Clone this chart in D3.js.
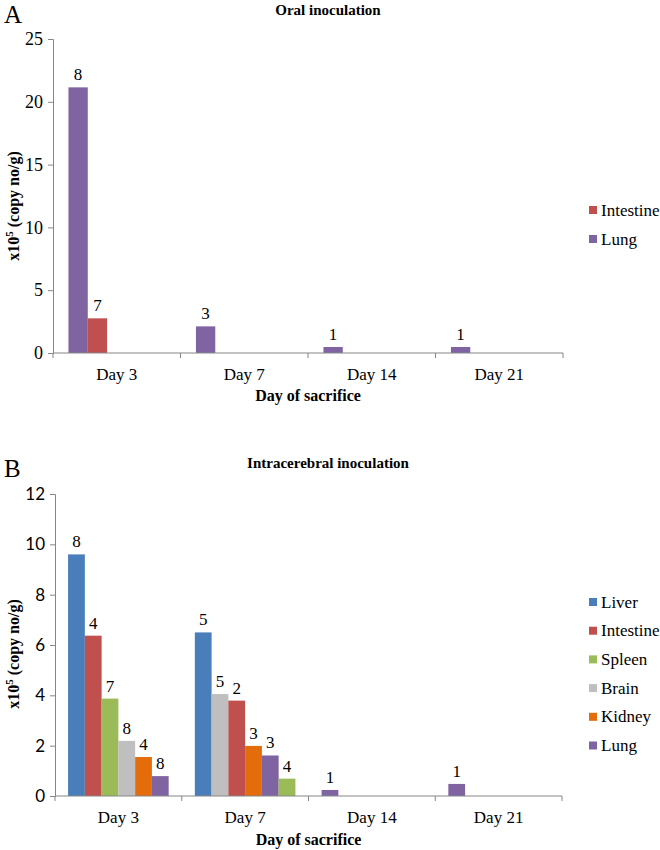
<!DOCTYPE html>
<html><head><meta charset="utf-8">
<script src="https://cdn.jsdelivr.net/npm/d3@7"></script>
<style>body{margin:0;background:#fff}svg{display:block}</style>
</head><body>
<script>
const categories = ["Day 3", "Day 7", "Day 14", "Day 21"];

// Panel A: oral inoculation
const oralSeries = ["Intestine", "Lung"];
const oralIntestine = [2.76, 0, 0, 0];
const oralLung = [21.15, 2.12, 0.48, 0.48];
const oralIntestineN = [7, null, null, null];
const oralLungN = [8, 3, 1, 1];
const oralTicks = [0, 5, 10, 15, 20, 25];

// Panel B: intracerebral inoculation
const icSeries = ["Liver", "Intestine", "Spleen", "Brain", "Kidney", "Lung"];
const icLiver = [9.6, 6.5, 0, 0];
const icIntestine = [6.37, 3.79, 0, 0];
const icSpleen = [3.87, 0.69, 0, 0];
const icBrain = [2.19, 4.05, 0, 0];
const icKidney = [1.55, 1.99, 0, 0];
const icLung = [0.79, 1.61, 0.24, 0.48];
const icLiverN = [8, 5, null, null];
const icIntestineN = [4, 2, null, null];
const icSpleenN = [7, 4, null, null];
const icBrainN = [8, 5, null, null];
const icKidneyN = [4, 3, null, null];
const icLungN = [8, 3, 1, 1];
const icTicks = [0, 2, 4, 6, 8, 10, 12];

const colors = {Liver: "#4A7EBB", Intestine: "#C0504D", Spleen: "#9BBB59", Brain: "#BFBFBF", Kidney: "#E46C0A", Lung: "#8064A2"};

const FONT = "Liberation Serif";
const SANS = "Lato";
const svg = d3.select("body").append("svg").attr("width", 660).attr("height", 850)
  .style("font-family", FONT);

function txt(sel) { return sel.append("text").style("font-family", FONT).attr("fill", "#000"); }

function panel(cfg) {
  const g = svg.append("g");
  const x = d3.scaleBand().domain(categories).range([cfg.x0, cfg.x1]).padding(0);
  const y = d3.scaleLinear().domain([0, cfg.max]).range([cfg.yBase, cfg.yTop]);
  const slot = d3.scaleBand().domain(d3.range(cfg.slots)).range([0, x.bandwidth()]).paddingInner(0).paddingOuter(cfg.outer);

  categories.forEach((c, ci) => {
    const items = cfg.series.map((s, si) => ({s, v: cfg.values[si][ci], n: cfg.counts[si][ci]}))
      .filter(d => d.v > 0).sort((a, b) => b.v - a.v);
    items.forEach((d, k) => {
      const bx = x(c) + slot(k);
      g.append("rect").attr("x", bx).attr("y", y(d.v)).attr("width", slot.bandwidth())
        .attr("height", y(0) - y(d.v)).attr("fill", colors[d.s]);
      if (d.n != null) {
        txt(g).attr("x", bx + slot.bandwidth() / 2).attr("y", y(d.v) - 7)
          .attr("text-anchor", "middle").style("font-size", "17px").text(d.n);
      }
    });
  });

  const ya = g.append("g").attr("transform", `translate(${cfg.x0},0)`)
    .call(d3.axisLeft(y).tickValues(cfg.ticks).tickSize(5).tickPadding(5).tickFormat(d3.format("d")));
  ya.attr("font-family", null).attr("font-size", null);
  ya.selectAll("path,line").attr("stroke", "#868686");
  ya.selectAll("text").style("font-size", cfg.tickFontSize).style("font-family", cfg.tickFont).attr("fill", "#000");

  const xa = g.append("g").attr("transform", `translate(0,${cfg.yBase})`);
  xa.append("line").attr("x1", cfg.x0).attr("x2", cfg.x1).attr("stroke", "#868686");
  const bounds = categories.map(c => x(c)).concat([cfg.x1]);
  bounds.forEach(b => xa.append("line").attr("x1", b).attr("x2", b).attr("y1", 0).attr("y2", 5).attr("stroke", "#868686"));
  categories.forEach(c => txt(xa).attr("x", x(c) + x.bandwidth() / 2).attr("y", cfg.tickLabelY - cfg.yBase)
    .attr("text-anchor", "middle").style("font-size", "17px").text(c));

  txt(g).attr("x", (cfg.x0 + cfg.x1) / 2).attr("y", cfg.xTitleY).attr("text-anchor", "middle")
    .style("font-size", "16px").style("font-weight", "bold").text("Day of sacrifice");
  txt(g).attr("x", 328).attr("y", cfg.titleY).attr("text-anchor", "middle")
    .style("font-size", "15px").style("font-weight", "bold").text(cfg.title);
  txt(g).attr("x", 4).attr("y", cfg.letterY).style("font-size", "25px").text(cfg.letter);

  const yl = txt(g).attr("transform", `translate(19,${cfg.yLabelY}) rotate(-90)`)
    .attr("text-anchor", "middle").style("font-size", "16px").style("font-weight", "bold");
  yl.append("tspan").text("x10");
  yl.append("tspan").style("font-size", "11px").attr("dy", -6).text("5");
  yl.append("tspan").attr("dy", 6).text(" (copy no/g)");

  cfg.legend.forEach((s, i) => {
    const ly = cfg.legendY + i * cfg.legendStep;
    g.append("rect").attr("x", 589).attr("y", ly - 4).attr("width", 8).attr("height", 8).attr("fill", colors[s]);
    txt(g).attr("x", 601).attr("y", ly + 5.5).style("font-size", "17px").text(s);
  });
}

panel({
  x0: 53, x1: 563, yBase: 353, yTop: 39, max: 25, ticks: oralTicks, slots: 5, outer: 0.8,
  series: oralSeries, values: [oralIntestine, oralLung], counts: [oralIntestineN, oralLungN],
  tickFont: FONT, tickFontSize: "18px",
  tickLabelY: 380, xTitleY: 401, title: "Oral inoculation", titleY: 15, letter: "A", letterY: 23,
  yLabelY: 206, legend: ["Intestine", "Lung"], legendY: 210, legendStep: 29
});

panel({
  x0: 55, x1: 562, yBase: 796, yTop: 494, max: 12, ticks: icTicks, slots: 6, outer: 0.78,
  series: icSeries, values: [icLiver, icIntestine, icSpleen, icBrain, icKidney, icLung],
  counts: [icLiverN, icIntestineN, icSpleenN, icBrainN, icKidneyN, icLungN],
  tickFont: SANS, tickFontSize: "17px",
  tickLabelY: 823, xTitleY: 845, title: "Intracerebral inoculation", titleY: 468, letter: "B", letterY: 477,
  yLabelY: 654, legend: icSeries, legendY: 602, legendStep: 28.7
});
</script>
</body></html>
